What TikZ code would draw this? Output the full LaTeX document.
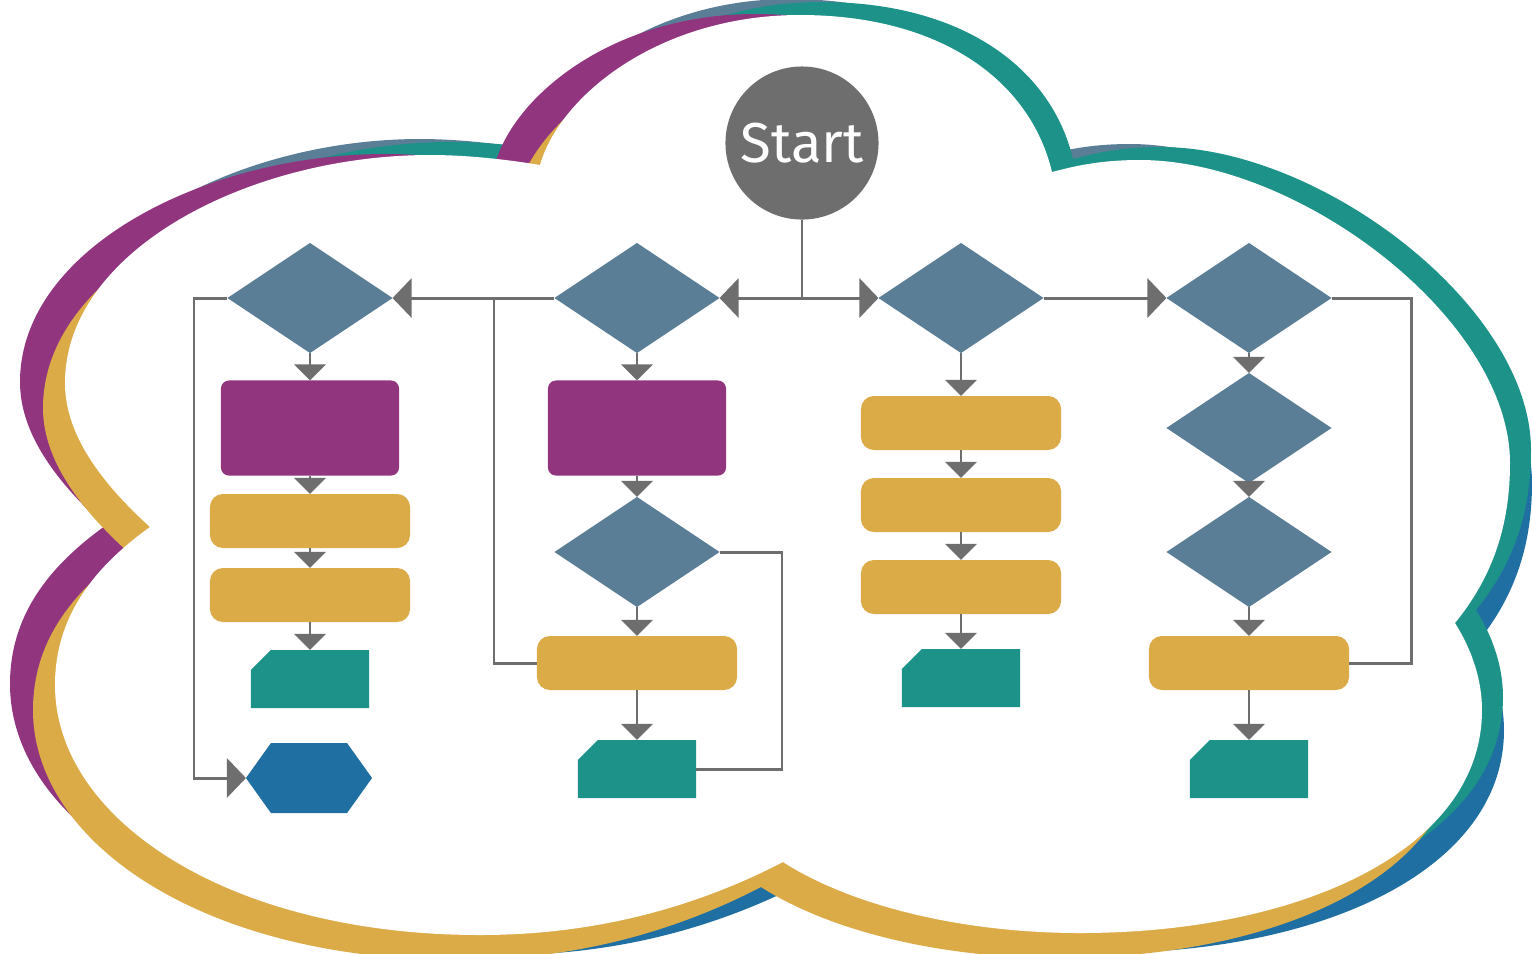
\documentclass[tikz,border=0pt]{standalone}
\usepackage{fontspec}
\setmainfont{Fira Sans}
\usetikzlibrary{shapes.geometric,arrows.meta,calc}

\definecolor{slatec}{HTML}{5A7E96}
\definecolor{tealc}{HTML}{1D9289}
\definecolor{purplec}{HTML}{91357F}
\definecolor{goldc}{HTML}{DBAB48}
\definecolor{bluec}{HTML}{1F6FA2}
\definecolor{greyc}{HTML}{6E6E6E}

% outline of the cloud, in pixel-like units
\newcommand{\cloudshape}{(150,527) .. controls (95,477) and (65,430) .. (65,383)
  .. controls (65,250) and (250,155) .. (430,155)
  .. controls (470,155) and (510,160) .. (540,165)
  .. controls (560,95) and (660,15) .. (800,15)
  .. controls (940,15) and (1030,80) .. (1052,172)
  .. controls (1075,166) and (1100,160) .. (1140,160)
  .. controls (1300,160) and (1510,320) .. (1510,463)
  .. controls (1510,530) and (1490,580) .. (1455,623)
  .. controls (1472,650) and (1482,680) .. (1482,710)
  .. controls (1482,850) and (1300,933) .. (1080,933)
  .. controls (960,933) and (850,905) .. (783,862)
  .. controls (700,905) and (600,935) .. (480,935)
  .. controls (230,935) and (55,820) .. (55,685)
  .. controls (55,620) and (90,570) .. (150,527) -- cycle}

\tikzset{
  startnode/.style={circle, fill=greyc, minimum size=1.53cm, inner sep=0pt, outer sep=0pt,
    text=white, font=\fontsize{16}{16}\selectfont},
  decision/.style={diamond, fill=slatec, inner sep=0pt, outer sep=0pt,
    minimum width=1.65cm, minimum height=1.10cm},
  processbig/.style={rectangle, fill=purplec, rounded corners=0.08cm, inner sep=0pt, outer sep=0pt,
    minimum width=1.78cm, minimum height=0.95cm},
  processbar/.style={rectangle, fill=goldc, rounded corners=0.13cm, inner sep=0pt, outer sep=0pt,
    minimum width=2.0cm, minimum height=0.54cm},
  cardbox/.style={rectangle, fill=white, inner sep=0pt, outer sep=0pt,
    minimum width=1.18cm, minimum height=0.58cm,
    path picture={\fill[tealc] (path picture bounding box.south west)
      -- (path picture bounding box.south east)
      -- (path picture bounding box.north east)
      -- ([xshift=0.2cm]path picture bounding box.north west)
      -- ([yshift=-0.2cm]path picture bounding box.north west) -- cycle;}},
  hexbox/.style={rectangle, fill=white, inner sep=0pt, outer sep=0pt,
    minimum width=1.26cm, minimum height=0.70cm,
    path picture={\fill[bluec] (path picture bounding box.west)
      -- ([xshift=0.25cm]path picture bounding box.north west)
      -- ([xshift=-0.25cm]path picture bounding box.north east)
      -- (path picture bounding box.east)
      -- ([xshift=-0.25cm]path picture bounding box.south east)
      -- ([xshift=0.25cm]path picture bounding box.south west) -- cycle;}},
  conn/.style={draw=greyc, line width=0.85pt},
  harr/.style={conn, -{Triangle[length=0.19cm,width=0.39cm]}},
  varr/.style={conn, -{Triangle[length=0.16cm,width=0.31cm]}}
}

\begin{document}
\begin{tikzpicture}[x=0.01cm, y=-0.01cm]
\useasboundingbox (0,0) rectangle (1532,953);
\clip (0,0) rectangle (1532,953);

% layered cloud outline
\fill[bluec, shift={(22,20)}] \cloudshape;
\fill[slatec, shift={(-10,-16)}] \cloudshape;
\fill[tealc, shift={(21,-13)}] \cloudshape;
\begin{scope}
  \clip (0,0) rectangle (1000,953);
  \fill[purplec, shift={(-45,-1)}] \cloudshape;
\end{scope}
\fill[goldc, shift={(-22,25)}] \cloudshape;
\fill[white] \cloudshape;

% start
\node[startnode] (start) at (802,143) {Start};

% column 1
\node[decision] (d1) at (310,298) {};
\node[processbig] (p1) at (310,428) {};
\node[processbar] (g1) at (310,521) {};
\node[processbar] (g2) at (310,595) {};
\node[cardbox] (t1) at (310,679) {};
\node[hexbox] (h1) at (309,778) {};

% column 2
\node[decision] (d2) at (637,298) {};
\node[processbig] (p2) at (637,428) {};
\node[decision] (d5) at (637,552) {};
\node[processbar] (g3) at (637,663) {};
\node[cardbox] (t2) at (637,769) {};

% column 3
\node[decision] (d3) at (961,298) {};
\node[processbar] (g4) at (961,423) {};
\node[processbar] (g5) at (961,505) {};
\node[processbar] (g6) at (961,587) {};
\node[cardbox] (t3) at (961,678) {};

% column 4
\node[decision] (d4) at (1249,298) {};
\node[decision] (d6) at (1249,428) {};
\node[decision] (d7) at (1249,552) {};
\node[processbar] (g7) at (1249,663) {};
\node[cardbox] (t4) at (1249,769) {};

% routing points
\coordinate (j) at (802,298);
\coordinate (l1) at (194,298);
\coordinate (l2) at (494,298);
\coordinate (l3) at (782,552);
\coordinate (l4) at (1411,298);

% main branch
\draw[conn] (start.south) -- (j);
\draw[harr] (j) -- (d2.east);
\draw[harr] (j) -- (d3.west);
\draw[harr] (d2.west) -- (d1.east);
\draw[harr] (d3.east) -- (d4.west);

% loops and side paths
\draw[harr] (d1.west) -- (l1) |- (h1.west);
\draw[conn] (g3.west) -| (l2);
\draw[conn] (d5.east) -- (l3) |- (t2.east);
\draw[conn] (d4.east) -- (l4) |- (g7.east);

% vertical flows
\draw[varr] (d1.south) -- (p1.north);
\draw[varr] (p1.south) -- (g1.north);
\draw[varr] (g1.south) -- (g2.north);
\draw[varr] (g2.south) -- (t1.north);

\draw[varr] (d2.south) -- (p2.north);
\draw[varr] (p2.south) -- (d5.north);
\draw[varr] (d5.south) -- (g3.north);
\draw[varr] (g3.south) -- (t2.north);

\draw[varr] (d3.south) -- (g4.north);
\draw[varr] (g4.south) -- (g5.north);
\draw[varr] (g5.south) -- (g6.north);
\draw[varr] (g6.south) -- (t3.north);

\draw[varr] (d4.south) -- (d6.north);
\draw[varr] (d6.south) -- (d7.north);
\draw[varr] (d7.south) -- (g7.north);
\draw[varr] (g7.south) -- (t4.north);
\end{tikzpicture}
\end{document}
